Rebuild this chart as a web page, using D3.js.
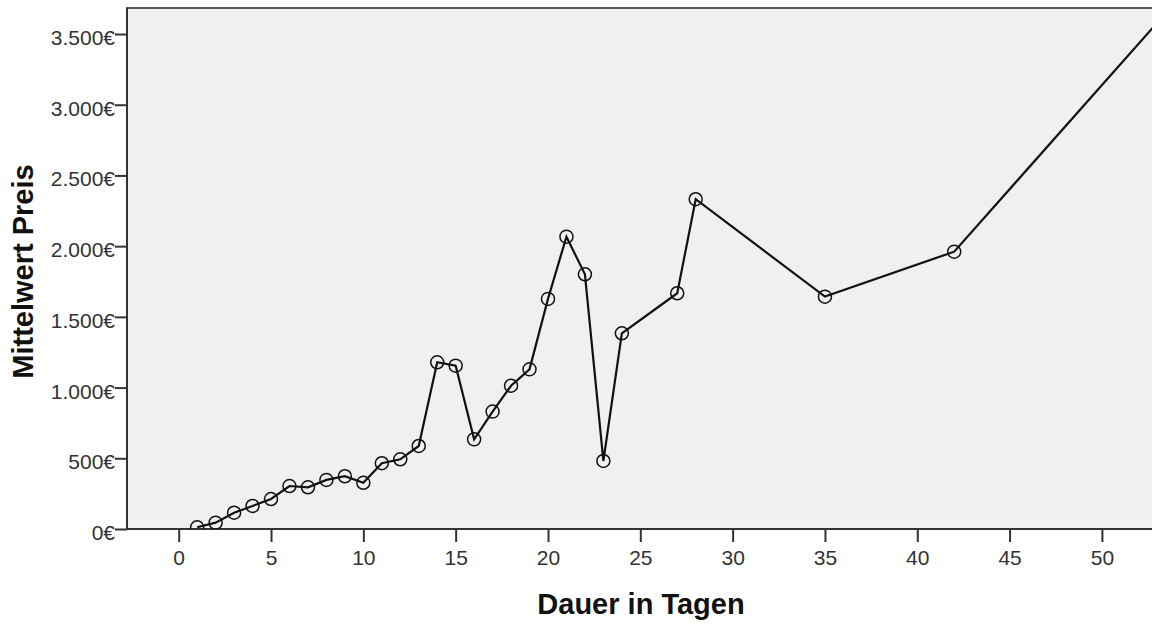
<!DOCTYPE html>
<html>
<head>
<meta charset="utf-8">
<script src="https://cdn.jsdelivr.net/npm/d3@7"></script>
<style>
  body { margin: 0; background: #fff; overflow: hidden; }
  text { font-family: "Liberation Sans", Arial, sans-serif; }
</style>
</head>
<body>
<div id="chart"></div>
<script>
// Dauer (Tage) und mittlerer Preis
var days = [1, 2, 3, 4, 5, 6, 7, 8, 9, 10, 11, 12, 13, 14, 15, 16, 17, 18, 19, 20, 21, 22, 23, 24, 27, 28, 35, 42, 54];
var prices = [12, 45, 115, 163, 212, 304, 295, 347, 373, 327, 465, 493, 587, 1179, 1155, 634, 830, 1013, 1129, 1627, 2067, 1801, 481, 1384, 1667, 2332, 1643, 1961, 3727];
var xTicks = [0, 5, 10, 15, 20, 25, 30, 35, 40, 45, 50];
var yTicks = [0, 500, 1000, 1500, 2000, 2500, 3000, 3500];

var svgWidth = 1200;
var svgHeight = 624;

var plot = { left: 127, right: 1161, top: 8, bottom: 529 };

var de = d3.formatLocale({
    decimal: ",",
    thousands: ".",
    grouping: [3],
    currency: ["", "€"]
});
var euro = de.format("$,.0f");

var svg = d3.select("#chart")
    .append("svg")
    .attr("width", svgWidth)
    .attr("height", svgHeight);

var xScale = d3.scaleLinear()
    .domain([-2.8, 53.2])
    .range([plot.left, plot.right]);

var yScale = d3.scaleLinear()
    .domain([0, 3684])
    .range([plot.bottom, plot.top]);

// plot background
svg.append("rect")
    .attr("x", plot.left)
    .attr("y", plot.top)
    .attr("width", plot.right - plot.left)
    .attr("height", plot.bottom - plot.top)
    .attr("fill", "#f0f0f0")
    .attr("stroke", "#555")
    .attr("stroke-width", 2);

// axes
var xAxis = d3.axisBottom(xScale)
    .tickValues(xTicks)
    .tickSize(13)
    .tickPadding(8)
    .tickSizeOuter(0);

var yAxis = d3.axisLeft(yScale)
    .tickValues(yTicks)
    .tickFormat(euro)
    .tickSize(12)
    .tickPadding(0)
    .tickSizeOuter(0);

var gx = svg.append("g")
    .attr("transform", `translate(0, ${plot.bottom})`)
    .call(xAxis);

var gy = svg.append("g")
    .attr("transform", `translate(${plot.left}, 0)`)
    .call(yAxis);

[gx, gy].forEach(g => {
    g.select(".domain").remove();
    g.selectAll(".tick line").attr("stroke", "#333").attr("stroke-width", 2);
    g.selectAll(".tick text")
        .attr("fill", "#333")
        .attr("font-size", "21px");
});
gy.selectAll(".tick text").attr("dy", "0.5em");

// axis lines on top of the frame
svg.append("line")
    .attr("x1", plot.left).attr("x2", plot.right)
    .attr("y1", plot.bottom).attr("y2", plot.bottom)
    .attr("stroke", "#333").attr("stroke-width", 2);
svg.append("line")
    .attr("x1", plot.left).attr("x2", plot.left)
    .attr("y1", plot.top).attr("y2", plot.bottom)
    .attr("stroke", "#333").attr("stroke-width", 2);

// line + markers (clipped to the plot frame)
svg.append("clipPath")
    .attr("id", "plotclip")
    .append("rect")
    .attr("x", plot.left)
    .attr("y", plot.top)
    .attr("width", plot.right - plot.left)
    .attr("height", plot.bottom - plot.top);

var points = days.map((d, i) => ({ day: d, price: prices[i] }));

var line = d3.line()
    .x(d => xScale(d.day))
    .y(d => yScale(d.price));

var marks = svg.append("g").attr("clip-path", "url(#plotclip)");

marks.append("path")
    .datum(points)
    .attr("fill", "none")
    .attr("stroke", "#111")
    .attr("stroke-width", 2.2)
    .attr("d", line);

marks.selectAll("circle.pt")
    .data(points)
    .enter()
    .append("circle")
    .attr("class", "pt")
    .attr("cx", d => xScale(d.day))
    .attr("cy", d => yScale(d.price))
    .attr("r", 6.5)
    .attr("fill", "none")
    .attr("stroke", "#111")
    .attr("stroke-width", 1.5);

// axis titles
svg.append("text")
    .attr("x", 641)
    .attr("y", 614)
    .attr("text-anchor", "middle")
    .attr("font-size", "29px")
    .attr("font-weight", "bold")
    .attr("fill", "#111")
    .text("Dauer in Tagen");

svg.append("text")
    .attr("transform", `translate(33, ${(plot.top + plot.bottom) / 2 + 3}) rotate(-90)`)
    .attr("text-anchor", "middle")
    .attr("font-size", "29px")
    .attr("font-weight", "bold")
    .attr("fill", "#111")
    .text("Mittelwert Preis");
</script>
</body>
</html>
